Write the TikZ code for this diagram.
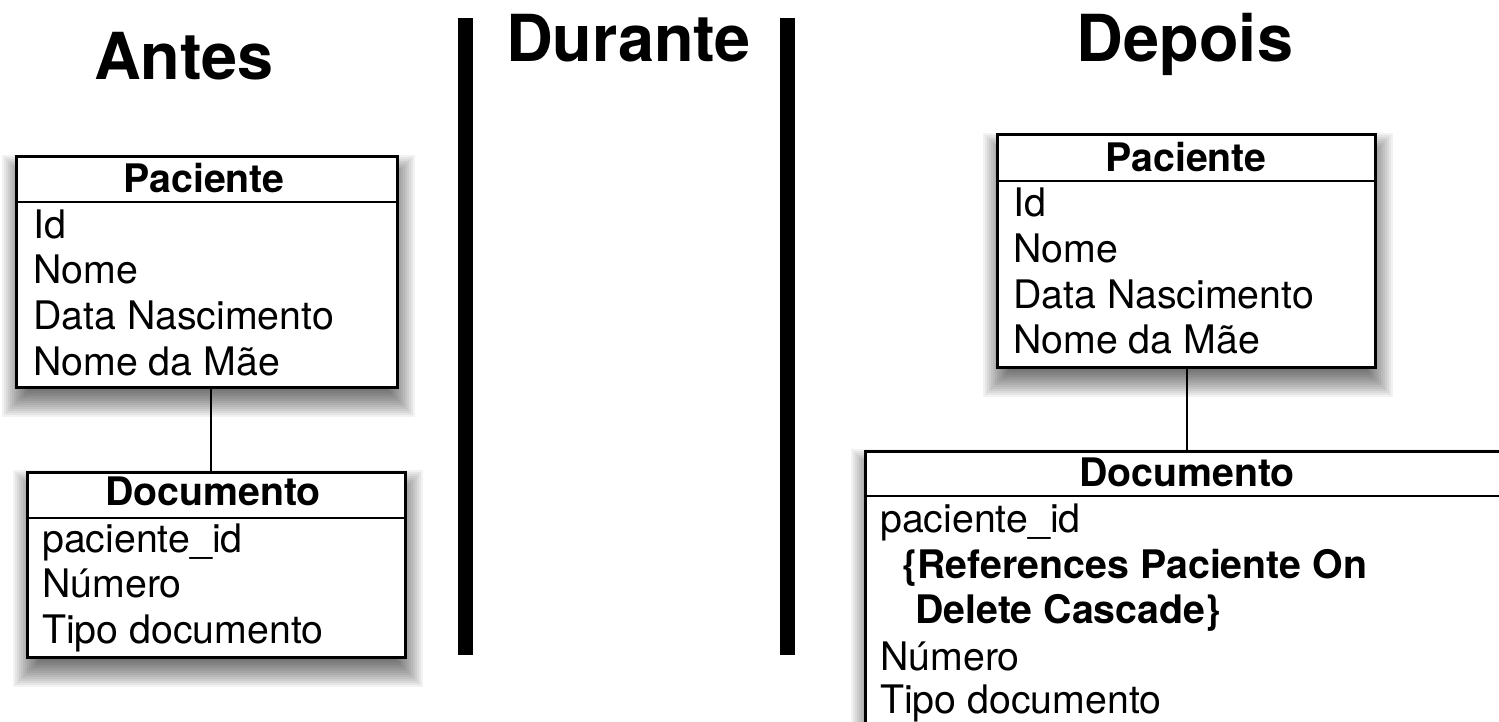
\documentclass[tikz,border=0pt]{standalone}
\usepackage{fontspec}
\setmainfont{TeX Gyre Heros}
\pgfdeclarelayer{bg}
\pgfsetlayers{bg,main}
\tikzset{
  box/.style={draw=black, line width=3pt, fill=white, anchor=north west, inner sep=0pt, outer sep=0pt},
  shadowlayer/.style={fill=black, fill opacity=0.05},
  sep/.style={line width=2.5pt},
  attr/.style={anchor=base west, inner sep=0pt, font=\fontsize{39.3}{45}\selectfont},
  hdr/.style={anchor=base, inner sep=0pt, font=\fontsize{39.3}{45}\selectfont\bfseries},
  ttl/.style={anchor=base, inner sep=0pt, font=\fontsize{64.8}{70}\selectfont\bfseries},
  conn/.style={line width=2pt},
  bar/.style={fill=black},
}
\newcommand{\shadowof}[1]{%
  \begin{pgfonlayer}{bg}
  \foreach \r in {-16,-14,...,16}{%
    \fill[shadowlayer] ([xshift=-\r pt+2pt, yshift=-14pt+\r pt]#1.north west) rectangle ([xshift=\r pt+2pt, yshift=-14pt-\r pt]#1.south east);
  }
  \end{pgfonlayer}}
\begin{document}
\begin{tikzpicture}[x=1pt,y=-1pt]
\clip (0,0) rectangle (1499,722);
\begin{pgfonlayer}{bg}
\fill[white] (0,0) rectangle (1499,722);
\end{pgfonlayer}

% titles
\node[ttl] (tAntes) at (184,80) {Antes};
\node[ttl] (tDurante) at (628.5,62) {Durante};
\node[ttl] (tDepois) at (1185,62) {Depois};

% separator bars
\fill[bar] (458,18) rectangle (473,655);
\fill[bar] (780,18) rectangle (795,655);

% connector anchor coordinates
\coordinate (link1) at (211,0);
\coordinate (link2) at (1187,0);

% Antes: Paciente
\node[box, minimum width=381pt, minimum height=230pt] (p1) at (16,157) {};
\shadowof{p1}
\draw[sep] ([yshift=-45pt]p1.north west) -- ([yshift=-45pt]p1.north east);
\node[hdr] (p1h) at (204,193) {Paciente};
\node[attr] (p1a) at (33,238) {Id};
\node[attr] (p1b) at (33,283) {Nome};
\node[attr] (p1c) at (33,329) {Data Nascimento};
\node[attr] (p1d) at (33,375) {Nome da Mãe};

% Antes: Documento
\node[box, minimum width=378pt, minimum height=185pt] (d1) at (27,472) {};
\shadowof{d1}
\draw[sep] ([yshift=-46pt]d1.north west) -- ([yshift=-46pt]d1.north east);
\node[hdr] (d1h) at (213,505) {Documento};
\node[attr] (d1a) at (42,552) {paciente\_id};
\node[attr] (d1b) at (42,597) {Número};
\node[attr] (d1c) at (42,643) {Tipo documento};

\draw[conn] (p1.south -| link1) -- (d1.north -| link1);

% Depois: Paciente
\node[box, minimum width=378pt, minimum height=232pt] (p2) at (997,135) {};
\shadowof{p2}
\draw[sep] ([yshift=-46pt]p2.north west) -- ([yshift=-46pt]p2.north east);
\node[hdr] (p2h) at (1186,172) {Paciente};
\node[attr] (p2a) at (1013,217) {Id};
\node[attr] (p2b) at (1013,262) {Nome};
\node[attr] (p2c) at (1013,308) {Data Nascimento};
\node[attr] (p2d) at (1013,353) {Nome da Mãe};

% Depois: Documento
\node[box, minimum width=660pt, minimum height=330pt] (d2) at (865,451) {};
\shadowof{d2}
\draw[sep] ([yshift=-45pt]d2.north west) -- ([yshift=-45pt]d2.north east);
\node[hdr] (d2h) at (1187,486) {Documento};
\node[attr] (d2a) at (880,532) {paciente\_id};
\node[attr, font=\fontsize{39.3}{45}\selectfont\bfseries] (d2b) at (902,578) {\{References Paciente On};
\node[attr, font=\fontsize{39.3}{45}\selectfont\bfseries] (d2c) at (915,623) {Delete Cascade\}};
\node[attr] (d2d) at (880,670) {Número};
\node[attr] (d2e) at (880,713) {Tipo documento};

\draw[conn] (p2.south -| link2) -- (d2.north -| link2);
\end{tikzpicture}
\end{document}
